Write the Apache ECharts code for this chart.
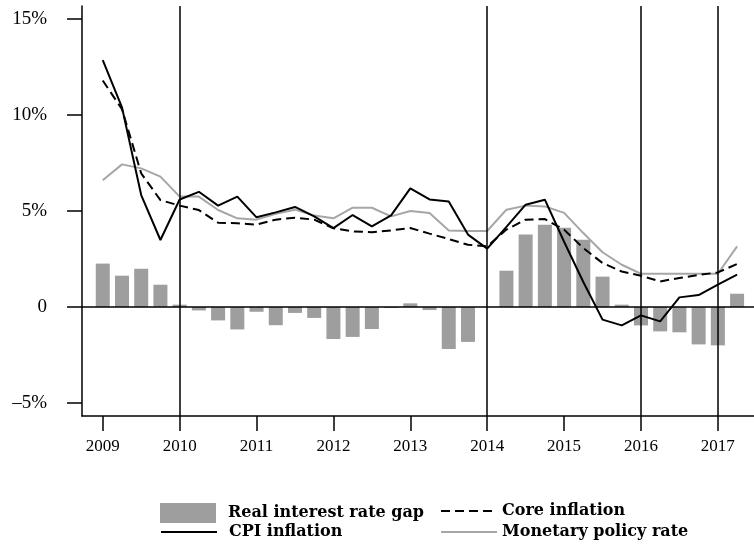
<!DOCTYPE html>
<html>
<head>
<meta charset="utf-8">
<script src="https://cdn.jsdelivr.net/npm/echarts@6/dist/echarts.min.js"></script>
<style>
  html, body { margin: 0; padding: 0; background: #fff; }
  #chart { width: 754px; height: 547px; }
</style>
</head>
<body>
<div id="chart"></div>
<script>
const quarters = [
  '2009Q1', '2009Q2', '2009Q3', '2009Q4',
  '2010Q1', '2010Q2', '2010Q3', '2010Q4',
  '2011Q1', '2011Q2', '2011Q3', '2011Q4',
  '2012Q1', '2012Q2', '2012Q3', '2012Q4',
  '2013Q1', '2013Q2', '2013Q3', '2013Q4',
  '2014Q1', '2014Q2', '2014Q3', '2014Q4',
  '2015Q1', '2015Q2', '2015Q3', '2015Q4',
  '2016Q1', '2016Q2', '2016Q3', '2016Q4',
  '2017Q1', '2017Q2'
]

// real interest rate gap (bars)
const rateGap = [
  2.26, 1.63, 1.99, 1.16,
  0.12, -0.18, -0.70, -1.17,
  -0.25, -0.95, -0.31, -0.57,
  -1.67, -1.56, -1.15, -0.05,
  0.19, -0.16, -2.19, -1.82,
  0, 1.89, 3.77, 4.29,
  4.13, 3.50, 1.58, 0.12,
  -0.96, -1.27, -1.32, -1.95,
  -2.00, 0.69
]

const cpiInflation = [
  12.86, 10.4, 5.83, 3.49,
  5.6, 6.0, 5.28, 5.75,
  4.67, 4.93, 5.21, 4.72,
  4.11, 4.79, 4.2, 4.77,
  6.18, 5.6, 5.5, 3.77,
  3.04, 4.17, 5.33, 5.59,
  3.4, 1.3, -0.66, -0.96,
  -0.44, -0.75, 0.5, 0.62,
  1.16, 1.68
]

const coreInflation = [
  11.8, 10.3, 6.96, 5.57,
  5.28, 5.05, 4.39, 4.36,
  4.29, 4.55, 4.65, 4.55,
  4.1, 3.94, 3.89, 3.99,
  4.11, 3.82, 3.54, 3.24,
  3.16, 4.03, 4.55, 4.58,
  4.03, 3.07, 2.29, 1.85,
  1.63, 1.33, 1.51, 1.67,
  1.8, 2.24
]

const policyRate = [
  6.6, 7.43, 7.22, 6.79,
  5.75, 5.75, 5.05, 4.62,
  4.55, 4.86, 5.07, 4.76,
  4.62, 5.17, 5.17, 4.72,
  5.0, 4.9, 3.99, 3.96,
  3.96, 5.07, 5.28, 5.24,
  4.9, 3.85, 2.85, 2.2,
  1.73, 1.73, 1.73, 1.73,
  1.73, 3.16
]

const yearTicks = [2009, 2010, 2011, 2012, 2013, 2014, 2015, 2016, 2017]
const yTicks = [-5, 0, 5, 10, 15]
const markerYears = [2010, 2014, 2016, 2017]

const FONT = 'Liberation Serif'

// quarter label -> position on the time axis
const qPos = q => +q.slice(0, 4) + (+q.slice(5) - 1) / 4
const pairs = vals => quarters.map((q, i) => [qPos(q), vals[i]])

const chart = echarts.init(document.getElementById('chart'))

const legendText = { fontFamily: 'DejaVu Serif', fontSize: 16, fontWeight: 'bold', color: '#000' }
const noDot = { opacity: 0 }

chart.setOption({
  animation: false,
  grid: { left: 82, right: 0, top: 6, bottom: 131, containLabel: false },
  xAxis: {
    type: 'value',
    min: 2008.73,
    max: 2017.47,
    splitLine: { show: false },
    axisLine: { onZero: false, lineStyle: { color: '#000', width: 1.5 } },
    axisTick: { customValues: yearTicks, length: 15, lineStyle: { color: '#000', width: 1.5 } },
    axisLabel: {
      customValues: yearTicks,
      margin: 22,
      fontFamily: FONT, fontSize: 17, color: '#000',
      formatter: v => String(v)
    }
  },
  yAxis: {
    type: 'value',
    min: -5.68,
    max: 15.68,
    splitLine: { show: false },
    axisLine: { show: true, onZero: false, lineStyle: { color: '#000', width: 1.5 } },
    axisTick: { show: true, customValues: yTicks, length: 15, lineStyle: { color: '#000', width: 1.5 } },
    axisLabel: {
      customValues: yTicks,
      margin: 35,
      fontFamily: FONT, fontSize: 19, color: '#000',
      formatter: v => v === 0 ? '0' : (v < 0 ? '\u2013' + Math.abs(v) : v) + '%'
    }
  },
  legend: [
    { data: [{ name: 'Real interest rate gap', icon: 'rect' }], left: 160, top: 503, padding: 0, itemWidth: 56, itemHeight: 20, textStyle: Object.assign({ padding: [0, 0, 0, 7] }, legendText) },
    { data: ['Core inflation'], left: 440, top: 503, padding: 0, itemWidth: 56, itemHeight: 20, itemStyle: noDot, textStyle: legendText },
    { data: ['CPI inflation'], left: 160, top: 524, padding: 0, itemWidth: 56, itemHeight: 20, itemStyle: noDot, textStyle: Object.assign({ padding: [0, 0, 0, 7] }, legendText) },
    { data: ['Monetary policy rate'], left: 440, top: 524, padding: 0, itemWidth: 56, itemHeight: 20, itemStyle: noDot, textStyle: legendText }
  ],
  series: [
    {
      name: 'Real interest rate gap',
      type: 'bar',
      data: pairs(rateGap),
      barWidth: 14,
      itemStyle: { color: '#9e9e9e' },
      z: 1,
      markLine: {
        silent: true,
        symbol: 'none',
        label: { show: false },
        lineStyle: { color: '#000', width: 1.5, type: 'solid' },
        data: [{ yAxis: 0 }].concat(markerYears.map(y => ({ xAxis: y })))
      }
    },
    {
      name: 'Monetary policy rate',
      type: 'line',
      data: pairs(policyRate),
      symbol: 'none',
      lineStyle: { color: '#a6a6a6', width: 2 },
      itemStyle: { color: '#a6a6a6' },
      z: 3
    },
    {
      name: 'Core inflation',
      type: 'line',
      data: pairs(coreInflation),
      symbol: 'none',
      lineStyle: { color: '#000', width: 2, type: [9, 5] },
      itemStyle: { color: '#000' },
      z: 4
    },
    {
      name: 'CPI inflation',
      type: 'line',
      data: pairs(cpiInflation),
      symbol: 'none',
      lineStyle: { color: '#000', width: 2 },
      itemStyle: { color: '#000' },
      z: 5
    }
  ]
})
</script>
</body>
</html>
